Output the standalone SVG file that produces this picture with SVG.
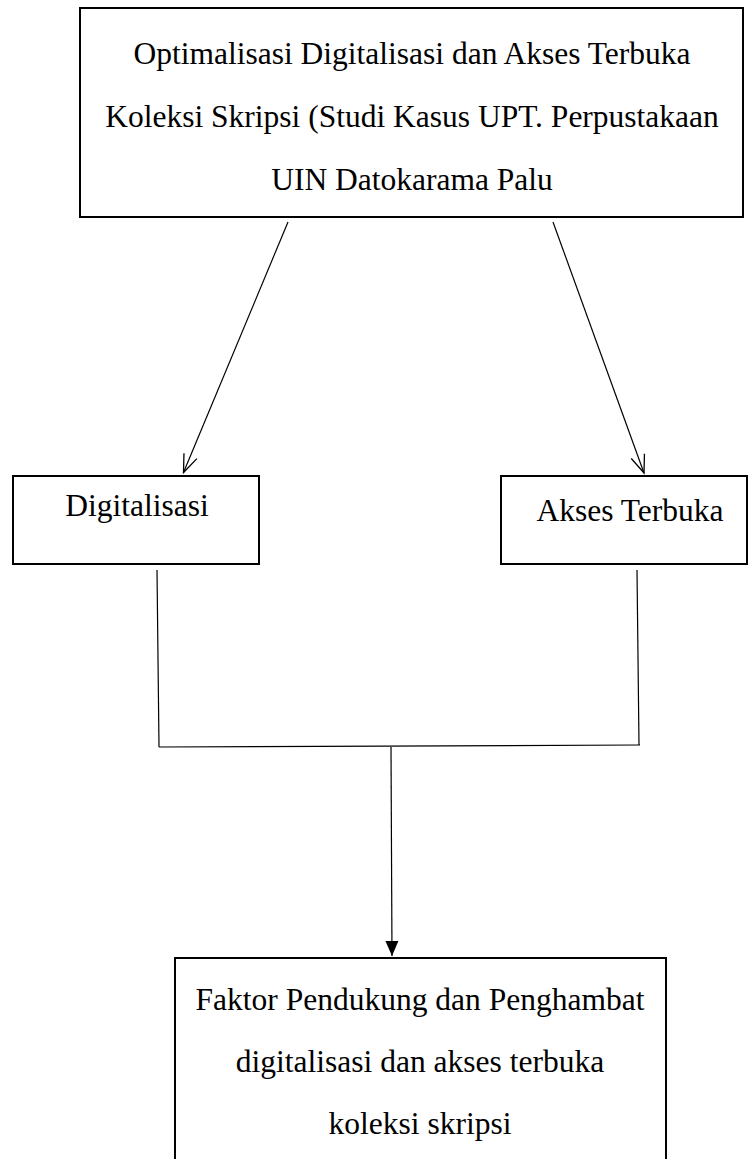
<svg xmlns="http://www.w3.org/2000/svg" width="749" height="1159" viewBox="0 0 749 1159">
  <style>
    .box { fill: #ffffff; stroke: #000000; stroke-width: 2; }
    .lbl { font-family: "Liberation Serif", "Times New Roman", serif; font-size: 31.5px; fill: #000000; text-anchor: middle; }
    .ln { stroke: #000000; stroke-width: 1.2; fill: none; }
  </style>
  <defs>
    <marker id="open" viewBox="-20 -10 22 20" refX="0" refY="0" markerWidth="22" markerHeight="20" markerUnits="userSpaceOnUse" orient="auto">
      <path d="M-18,-7 L0,0 L-18,7" fill="none" stroke="#000000" stroke-width="1.3"/>
    </marker>
    <marker id="filled" viewBox="-16 -8 18 16" refX="0" refY="0" markerWidth="18" markerHeight="16" markerUnits="userSpaceOnUse" orient="auto">
      <path d="M-15,-6.5 L0,0 L-15,6.5 Z" fill="#000000"/>
    </marker>
  </defs>
  <rect width="749" height="1159" fill="#ffffff"/>

  <g id="node-title">
    <rect class="box" x="80" y="8" width="663" height="209"/>
    <text class="lbl" x="412" y="64">Optimalisasi Digitalisasi dan Akses Terbuka</text>
    <text class="lbl" x="412" y="127">Koleksi Skripsi (Studi Kasus UPT. Perpustakaan</text>
    <text class="lbl" x="412" y="190">UIN Datokarama Palu</text>
  </g>

  <g id="node-digitalisasi">
    <rect class="box" x="13" y="476" width="246" height="88"/>
    <text class="lbl" x="137" y="516">Digitalisasi</text>
  </g>

  <g id="node-akses">
    <rect class="box" x="501" y="476" width="246" height="88"/>
    <text class="lbl" x="630" y="521">Akses Terbuka</text>
  </g>

  <g id="node-faktor">
    <rect class="box" x="175" y="958" width="491" height="215"/>
    <text class="lbl" x="420" y="1010">Faktor Pendukung dan Penghambat</text>
    <text class="lbl" x="420" y="1072">digitalisasi dan akses terbuka</text>
    <text class="lbl" x="420" y="1134">koleksi skripsi</text>
  </g>

  <g id="connectors">
    <line class="ln" x1="288" y1="222" x2="183.5" y2="472.5" marker-end="url(#open)"/>
    <line class="ln" x1="553" y1="222" x2="644" y2="473" marker-end="url(#open)"/>
    <line class="ln" x1="157" y1="570" x2="159" y2="747"/>
    <line class="ln" x1="637" y1="570" x2="639" y2="745"/>
    <line class="ln" x1="159" y1="747" x2="640" y2="745"/>
    <line class="ln" x1="391" y1="747" x2="392" y2="956" marker-end="url(#filled)"/>
  </g>
</svg>
